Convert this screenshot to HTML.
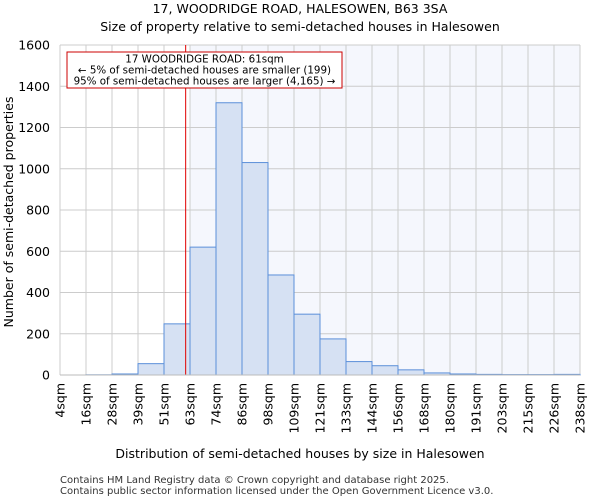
<!DOCTYPE html>
<html><head><meta charset="utf-8"><style>
body{margin:0;background:#fff;font-family:"DejaVu Sans","Liberation Sans",sans-serif}
</style></head><body>
<svg id="c" width="600" height="500" xmlns="http://www.w3.org/2000/svg" font-family="DejaVu Sans, Liberation Sans, sans-serif">
<text x="300" y="13" text-anchor="middle" font-size="12.5">17, WOODRIDGE ROAD, HALESOWEN, B63 3SA</text>
<text x="300" y="31" text-anchor="middle" font-size="12.5">Size of property relative to semi-detached houses in Halesowen</text>
<g id="plot"></g>
<text transform="translate(13,212) rotate(-90)" text-anchor="middle" font-size="12.5">Number of semi-detached properties</text>
<text x="300" y="458" text-anchor="middle" font-size="12.5">Distribution of semi-detached houses by size in Halesowen</text>
<text x="60" y="483" font-size="10" fill="#333">Contains HM Land Registry data © Crown copyright and database right 2025.</text>
<text x="60" y="494" font-size="10" fill="#333">Contains public sector information licensed under the Open Government Licence v3.0.</text>
</svg>
<script>
const categories=["4sqm","16sqm","28sqm","39sqm","51sqm","63sqm","74sqm","86sqm","98sqm","109sqm","121sqm","133sqm","144sqm","156sqm","168sqm","180sqm","191sqm","203sqm","215sqm","226sqm","238sqm"];
const binEdges=[4,16,28,39,51,63,74,86,98,109,121,133,144,156,168,180,191,203,215,226,238];
const counts=[0,1,5,55,248,620,1320,1030,485,295,175,65,45,25,10,5,3,2,2,3];
const yTicks=[0,200,400,600,800,1000,1200,1400,1600];
const propertySize=61;
const NS="http://www.w3.org/2000/svg";
const L=60,R=580,T=45,B=375,yMax=1600;
const nb=counts.length,bw=(R-L)/nb;
function xIdx(i){return L+i*bw;}
function xVal(v){let i=0;while(i<binEdges.length-2&&v>binEdges[i+1])i++;return xIdx(i)+bw*(v-binEdges[i])/(binEdges[i+1]-binEdges[i]);}
function y(v){return B-(v/yMax)*(B-T);}
const g=document.getElementById('plot');
function mk(t,a){const e=document.createElementNS(NS,t);for(const k in a)e.setAttribute(k,a[k]);g.appendChild(e);return e;}
let bg=mk('rect',{x:L,y:T,width:R-L,height:B-T,fill:'#fff'});


let si=0;while(si<binEdges.length-1&&binEdges[si+1]<=propertySize)si++;
let sh=mk('rect',{x:xIdx(si+1),y:T,width:R-xIdx(si+1),height:B-T,fill:'#f5f7fd'});


categories.forEach((c,i)=>{const x=xIdx(i);
 let gl=mk('line',{x1:x,x2:x,y1:T,y2:B,stroke:'#ccc','stroke-width':1});
 
 
 let t=mk('text',{transform:`translate(${x+4.5},383) rotate(-90)`,'text-anchor':'end','font-size':12.5});
 t.textContent=c;
 
 
});
yTicks.forEach(v=>{const yy=y(v);
 let gl=mk('line',{x1:L,x2:R,y1:yy,y2:yy,stroke:'#ccc','stroke-width':1});
 
 
 let t=mk('text',{x:50,y:yy+4.5,'text-anchor':'end','font-size':12.5});
 t.textContent=v;
 
 
});
counts.forEach((v,i)=>{
 let r=mk('rect',{x:xIdx(i),y:y(v),width:bw,height:B-y(v),fill:'#d6e1f3',stroke:'#5b8fd9','stroke-width':1});
 
 
});
const rx=xVal(propertySize);
let rl=mk('line',{x1:rx,x2:rx,y1:T,y2:B,stroke:'#e00000','stroke-width':1});


let ax=mk('line',{x1:L,x2:R,y1:B,y2:B,stroke:'#bbb','stroke-width':1});


let box=mk('rect',{x:67,y:52,width:275,height:36,fill:'#fff',stroke:'#c00','stroke-width':1});


["17 WOODRIDGE ROAD: 61sqm","← 5% of semi-detached houses are smaller (199)","95% of semi-detached houses are larger (4,165) →"].forEach((s,i)=>{
 let t=mk('text',{x:204.5,y:62.5+i*11,'text-anchor':'middle','font-size':10.3});
 t.textContent=s;
 
 
});
</script>
</body></html>
